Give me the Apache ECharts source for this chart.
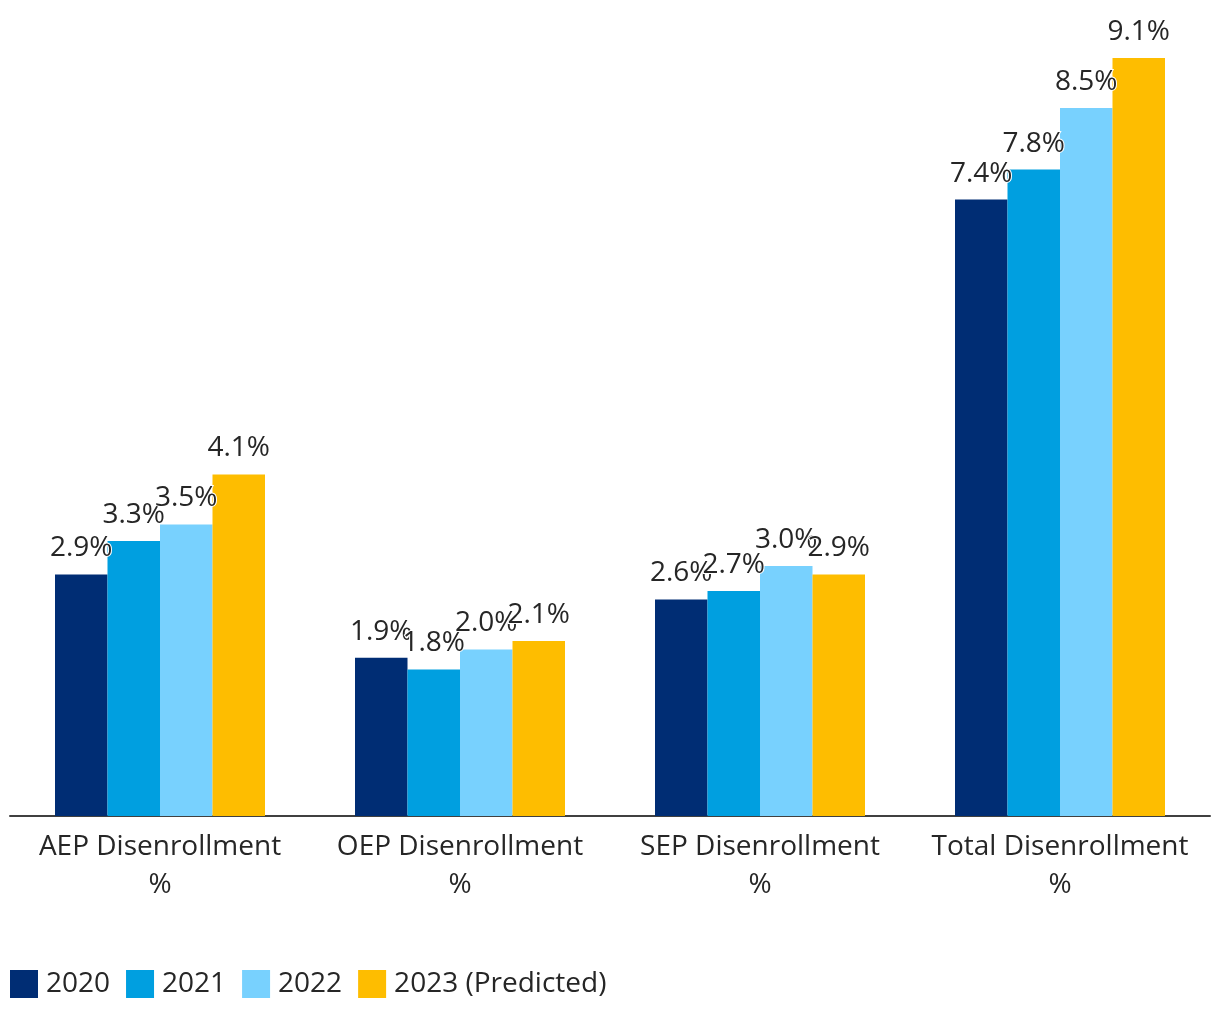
<!DOCTYPE html>
<html>
<head>
<meta charset="utf-8">
<script src="https://cdn.jsdelivr.net/npm/echarts@6/dist/echarts.min.js"></script>
<style>
  html, body { margin: 0; padding: 0; background: #ffffff; }
  #chart { width: 1220px; height: 1020px; }
</style>
</head>
<body>
<div id="chart"></div>
<script>
const categories = ['AEP Disenrollment\n%', 'OEP Disenrollment\n%', 'SEP Disenrollment\n%', 'Total Disenrollment\n%'];
const seriesNames = ['2020', '2021', '2022', '2023 (Predicted)'];
const values2020 = [2.9, 1.9, 2.6, 7.4];
const values2021 = [3.3, 1.76, 2.7, 7.76];
const values2022 = [3.5, 2.0, 3.0, 8.5];
const values2023 = [4.1, 2.1, 2.9, 9.1];
const colors = ['#002d74', '#009fe0', '#78d1fe', '#febd00'];

const FONT = '"Open Sans", "Noto Sans", sans-serif';
const allValues = [values2020, values2021, values2022, values2023];

const chart = echarts.init(document.getElementById('chart'));
chart.setOption({
  animation: false,
  color: colors,
  grid: { left: 10, right: 10, top: 58, bottom: 204, containLabel: false },
  legend: {
    left: 10, top: 970, padding: 0,
    itemWidth: 28, itemHeight: 28, itemGap: 16,
    icon: 'rect',
    textStyle: { fontFamily: FONT, fontSize: 28, color: '#262626', padding: [0, 0, 0, 3] },
    data: seriesNames
  },
  xAxis: {
    type: 'category',
    data: categories,
    axisLine: { show: true, lineStyle: { color: '#404040', width: 2 } },
    axisTick: { show: false },
    axisLabel: {
      fontFamily: FONT, fontSize: 28, color: '#262626',
      lineHeight: 38, margin: 12, interval: 0
    }
  },
  yAxis: {
    type: 'value', min: 0, max: 9.1, show: false,
    splitLine: { show: false }
  },
  series: seriesNames.map((name, i) => ({
    name: name,
    type: 'bar',
    data: allValues[i],
    barGap: '0%',
    barCategoryGap: '30%',
    label: {
      show: true, position: 'top', distance: 12,
      fontFamily: FONT, fontSize: 28, color: '#262626',
      textBorderColor: '#ffffff', textBorderWidth: 2,
      formatter: p => p.value.toFixed(1) + '%'
    }
  }))
});
</script>
</body>
</html>
